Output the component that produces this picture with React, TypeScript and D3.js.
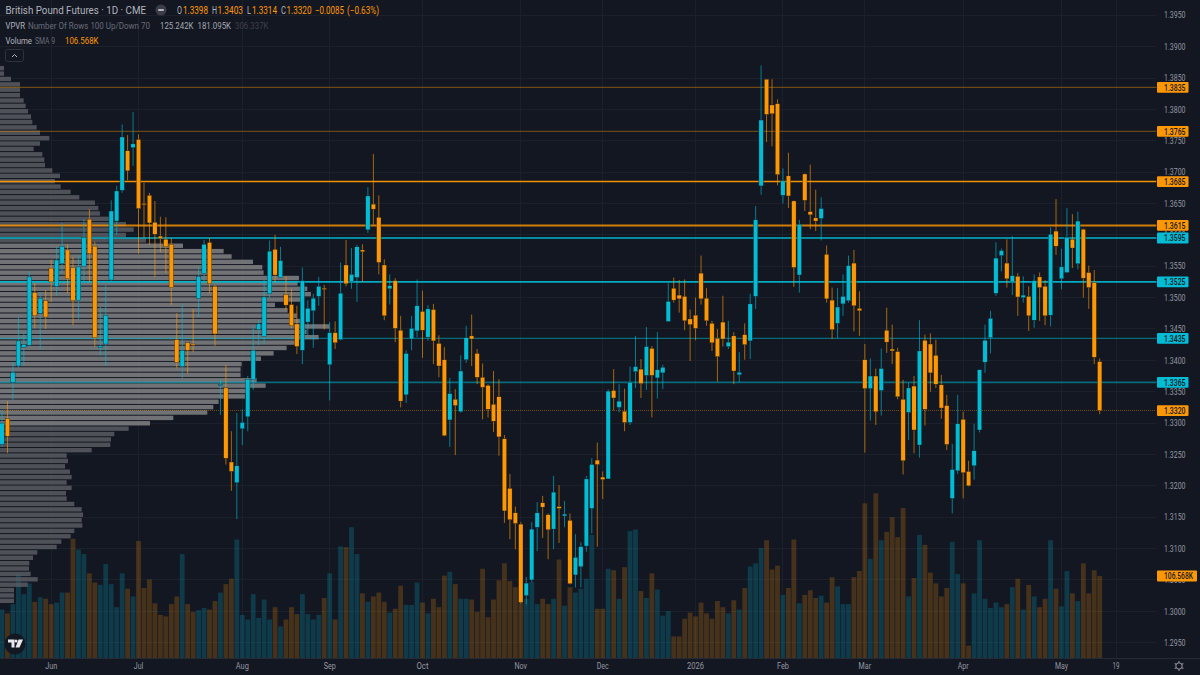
import React from "react";
import * as d3 from "d3";

// ---- candle data, in ten-thousandths of a USD (13398 = 1.3398) ----
const opens = [
13266,13307,13365,13391,13421,13424,13508,13475,13495,13547,
13518,13554,13576,13548,13495,13550,13625,13582,13420,13426,
13528,13622,13671,13734,13739,13752,13650,13663,13620,13598,
13593,13585,13433,13390,13428,13426,13499,13538,13588,13518,
13360,13356,13238,13205,13291,13310,13369,13449,13438,13506,
13577,13532,13505,13489,13458,13416,13461,13479,13502,13515,
13393,13444,13433,13552,13525,13532,13576,13608,13649,13628,
13552,13514,13527,13448,13345,13434,13447,13478,13437,13481,
13427,13401,13305,13338,13318,13401,13439,13411,13373,13360,
13330,13342,13275,13196,13157,13139,13025,13050,13134,13173,
13154,13131,13167,13152,13145,13058,13071,13104,13164,13241,
13214,13211,13352,13325,13319,13301,13382,13386,13376,13419,
13372,13380,13462,13515,13504,13502,13466,13472,13539,13499,
13459,13435,13461,13422,13439,13377,13441,13431,13502,13678,
13848,13807,13809,13663,13694,13654,13536,13697,13637,13627,
13626,13569,13496,13459,13490,13495,13555,13483,13401,13355,
13375,13352,13448,13418,13414,13338,13317,13359,13265,13432,
13426,13408,13361,13328,13180,13224,13306,13223,13232,13289,
13397,13436,13507,13567,13555,13525,13534,13500,13502,13464,
13533,13518,13472,13606,13530,13540,13593,13554,13609,13540,
13524,13398];
const highs = [
13321,13335,13397,13469,13444,13542,13523,13509,13512,13560,
13581,13619,13585,13565,13567,13625,13641,13589,13485,13520,
13655,13678,13776,13759,13796,13760,13683,13667,13654,13629,
13628,13595,13475,13491,13430,13482,13549,13592,13595,13520,
13370,13393,13287,13316,13322,13375,13454,13464,13528,13591,
13600,13581,13534,13514,13487,13548,13496,13506,13533,13520,
13461,13462,13556,13592,13579,13584,13585,13676,13729,13663,
13561,13537,13531,13471,13416,13471,13529,13511,13488,13490,
13440,13421,13372,13354,13408,13455,13473,13418,13395,13362,
13383,13370,13281,13219,13167,13142,13055,13142,13174,13184,
13156,13216,13201,13176,13156,13123,13110,13216,13244,13269,
13223,13354,13386,13362,13355,13390,13439,13402,13453,13423,
13445,13393,13523,13532,13528,13529,13481,13500,13567,13515,
13463,13450,13503,13463,13445,13413,13459,13506,13646,13870,
13848,13848,13816,13706,13731,13655,13624,13698,13712,13672,
13660,13583,13516,13515,13537,13567,13576,13510,13426,13403,
13387,13419,13484,13457,13420,13369,13364,13375,13464,13441,
13443,13433,13377,13345,13267,13345,13318,13240,13299,13385,
13457,13479,13588,13578,13593,13598,13539,13534,13518,13537,
13540,13528,13612,13657,13578,13643,13633,13637,13610,13551,
13544,13403];
const lows = [
13262,13252,13337,13388,13393,13422,13451,13418,13450,13493,
13503,13539,13507,13456,13466,13526,13525,13422,13408,13391,
13525,13600,13667,13687,13710,13570,13595,13584,13533,13572,
13539,13488,13387,13371,13379,13413,13469,13523,13507,13423,
13313,13234,13192,13147,13265,13287,13353,13424,13426,13499,
13524,13531,13480,13451,13410,13394,13440,13420,13487,13449,
13336,13418,13432,13518,13514,13493,13525,13603,13616,13537,
13464,13489,13429,13325,13332,13416,13437,13404,13431,13394,
13373,13279,13262,13249,13317,13396,13391,13362,13306,13309,
13286,13248,13141,13115,13099,13012,13011,13047,13096,13117,
13083,13099,13109,13134,13043,13038,13038,13095,13124,13103,
13179,13211,13320,13317,13287,13297,13356,13340,13353,13309,
13339,13354,13462,13492,13476,13448,13399,13432,13489,13455,
13415,13366,13422,13418,13362,13365,13401,13402,13482,13664,
13748,13741,13679,13650,13643,13517,13508,13638,13609,13606,
13591,13492,13434,13435,13471,13492,13446,13439,13253,13304,
13297,13312,13412,13394,13338,13218,13273,13252,13245,13296,
13350,13356,13307,13257,13156,13219,13180,13199,13210,13285,
13380,13411,13503,13542,13516,13504,13471,13492,13447,13452,
13463,13456,13454,13568,13513,13539,13547,13545,13500,13482,
13394,13314];
const closes = [
13300,13279,13381,13431,13425,13533,13471,13499,13469,13525,
13560,13582,13530,13495,13549,13596,13570,13436,13423,13472,
13638,13670,13756,13702,13745,13642,13648,13619,13601,13594,
13581,13516,13397,13416,13416,13424,13534,13585,13522,13442,
13362,13244,13223,13232,13301,13370,13416,13458,13501,13574,
13536,13559,13488,13455,13422,13527,13483,13499,13518,13513,
13444,13428,13507,13522,13537,13581,13573,13662,13641,13556,
13471,13519,13451,13335,13411,13451,13487,13448,13482,13431,
13391,13280,13347,13328,13383,13436,13434,13373,13357,13322,
13303,13278,13160,13146,13140,13014,13045,13131,13157,13166,
13130,13190,13164,13155,13044,13086,13103,13211,13234,13234,
13210,13351,13340,13335,13301,13365,13390,13363,13422,13376,
13385,13389,13494,13496,13498,13463,13457,13451,13498,13463,
13428,13406,13434,13429,13383,13381,13425,13490,13624,13783,
13792,13793,13696,13686,13662,13548,13617,13655,13632,13622,
13642,13498,13449,13485,13502,13551,13487,13479,13355,13375,
13318,13387,13429,13415,13342,13240,13356,13289,13415,13322,
13380,13362,13324,13266,13226,13299,13221,13200,13256,13385,
13432,13467,13563,13575,13530,13535,13501,13504,13471,13527,
13516,13471,13601,13582,13549,13596,13579,13622,13531,13516,
13405,13320];

// Volume per bar, thousands of contracts
const volumes = [
63,58,70,109,83,97,73,79,77,70,
72,85,85,155,141,135,110,98,95,122,
96,66,110,90,80,152,91,102,71,56,
54,70,80,135,70,60,62,65,63,74,
85,96,103,154,56,50,83,52,76,50,
66,41,50,66,57,83,57,50,56,78,
110,50,145,144,170,135,84,73,80,85,
73,59,64,94,69,69,98,72,58,77,
66,107,112,96,77,77,76,60,116,53,
76,101,123,100,92,71,77,99,70,77,
70,77,128,68,92,85,90,103,160,64,
64,116,114,77,118,165,167,87,78,110,
89,55,61,28,28,51,59,54,72,58,
51,74,66,58,75,63,91,119,123,143,
153,115,120,82,91,154,71,82,88,78,
81,72,105,93,70,70,105,113,201,129,
214,153,164,183,157,195,80,104,160,147,
111,97,80,91,151,109,97,16,84,153,
77,65,72,66,70,92,103,63,95,80,
66,77,153,90,67,113,84,74,123,84,
114,106.568];

// VPVR histogram: relative row volume, top row first
const vpvrRows = [
12,12,33,60,60,60,71,77,84,93,
97,110,120,148,120,101,127,133,135,157,
180,165,182,212,238,285,295,300,330,378,
401,378,438,549,671,695,759,787,791,897,
893,922,933,912,825,863,890,905,988,920,
956,890,860,821,783,725,722,722,770,797,
745,735,656,640,622,520,450,386,343,333,
331,275,200,204,195,210,215,200,215,198,
200,223,245,249,245,247,223,212,184,170,
112,99,88,87,92,113,83,42,42,42];
const vpvrValueFirst = 33;
const vpvrValueLast = 66;

const priceTicks = [1.395,1.39,1.385,1.38,1.375,1.37,1.365,1.36,1.355,1.35,1.345,1.34,1.335,1.33,1.325,1.32,1.315,1.31,1.305,1.3,1.295];
const timeLabels = ["Jun","Jul","Aug","Sep","Oct","Nov","Dec","2026","Feb","Mar","Apr","May","19"];
const timeBars = [9,25,44,60,77,95,110,127,143,158,176,194,204];

const levelPrices = [1.3835,1.3765,1.3685,1.3615,1.3595,1.3525,1.3435,1.3365];
const levelKinds = ["down","down","down","down","up","up","up","up"];
const levelWidths = [1.4,1.4,1.6,2,1.5,1.7,1.4,1.7];
const levelOpacities = [0.38,0.36,0.95,0.8,0.95,0.9,0.5,0.5];
const lastClose = 1.332;
const lastVolume = 106.568;

const BG = "#131722";
const UP = "#00bcd4";
const DOWN = "#ff9800";
const AXIS_TEXT = "#9598a1";
const FONT = "Roboto, 'Noto Sans', sans-serif";
const plotRight = 1156.5;
const axisY = 658;

const x = d3.scaleLinear().domain([0, 201]).range([2, 1099.7]);
const y = d3.scaleLinear().domain([1.295, 1.385]).range([642.7, 78]);
const yVol = d3.scaleLinear().domain([0, lastVolume]).range([axisY, 576]);
const xVp = d3.scaleLinear().domain([0, 988]).range([0, 329.3]);
const rowY = d3.scaleLinear().domain([0, 100]).range([66, 604]);
const crisp = (v: number) => Math.floor(v) + 0.5;

const Txt = ({ x, y, w, size, fill, children, anchor, weight }: any) => (
  <text x={x} y={y} fontSize={size} fill={fill} textAnchor={anchor} fontWeight={weight}
    textLength={w} lengthAdjust="spacingAndGlyphs">{children}</text>
);

const Tag = ({ yc, text, color, w = 31.5, tw = 21.5 }: { yc: number; text: string; color: string; w?: number; tw?: number }) => (
  <g>
    <rect x={1157} y={yc - 5.4} width={w} height={10.8} rx={1} fill={color} />
    <Txt x={1164} y={yc + 3.2} w={tw} size={9.2} fill="#131722" weight={500}>{text}</Txt>
  </g>
);

const timeLabelWidths = [12,9.5,13,12,12,12.5,12,17,12,12.5,11,13,7];

export default function App() {
  const bw = 4.4;
  return (
    <div style={{ position: "fixed", left: 0, top: 0, width: 1200, height: 675, background: BG, overflow: "hidden" }}>
      <svg width={1200} height={675} style={{ display: "block" }} fontFamily={FONT}>
        <rect width={1200} height={675} fill={BG} />
        {/* grid */}
        {priceTicks.map((p) => (
          <line key={p} x1={0} x2={plotRight} y1={crisp(y(p))} y2={crisp(y(p))} stroke="#1c202b" strokeWidth={1} />
        ))}
        {timeBars.map((b) => (
          <line key={b} x1={crisp(x(b))} x2={crisp(x(b))} y1={0} y2={axisY} stroke="#1c202b" strokeWidth={1} />
        ))}
        {/* volume */}
        {volumes.map((v, i) => (
          <rect key={i} x={x(i) - 2.4} width={4.8} y={yVol(v)} height={axisY - yVol(v)}
            fill={closes[i] >= opens[i] ? UP : DOWN} opacity={0.22} />
        ))}
        {/* VPVR */}
        {vpvrRows.map((r, k) => (
          <rect key={k} x={0} y={rowY(k)} width={xVp(r)} height={4.4}
            fill={k >= vpvrValueFirst && k <= vpvrValueLast ? "#8c8c8e" : "#5f6168"} opacity={0.78} />
        ))}
        {/* levels */}
        {levelPrices.map((p, i) => (
          <line key={p} x1={0} x2={plotRight} y1={y(p)} y2={y(p)}
            stroke={levelKinds[i] === "up" ? UP : DOWN} strokeWidth={levelWidths[i]} opacity={levelOpacities[i]} />
        ))}
        <line x1={0} x2={plotRight} y1={crisp(y(lastClose))} y2={crisp(y(lastClose))} stroke={DOWN} strokeWidth={1} strokeDasharray="1 1" opacity={0.4} />
        {/* candles */}
        {opens.map((o, i) => {
          const up = closes[i] >= o;
          const c = up ? UP : DOWN;
          const t = y(Math.max(o, closes[i]) / 1e4);
          const b = y(Math.min(o, closes[i]) / 1e4);
          return (
            <g key={i}>
              <line x1={x(i)} x2={x(i)} y1={y(highs[i] / 1e4)} y2={y(lows[i] / 1e4)} stroke={c} strokeWidth={1} opacity={0.62} />
              <rect x={x(i) - bw / 2} y={t} width={bw} height={Math.max(b - t, 1)} fill={c} stroke="#0d1018" strokeWidth={0.4} strokeOpacity={0.8} />
            </g>
          );
        })}
        {/* axes */}
        <rect x={0} y={axisY + 0.5} width={1200} height={17} fill={BG} />
        <line x1={0} x2={1200} y1={axisY + 0.5} y2={axisY + 0.5} stroke="#262a35" />
        <rect x={plotRight} y={0} width={44} height={658} fill={BG} />
        {priceTicks.map((p) => (
          <Txt key={p} x={1164} y={y(p) + 3.2} w={21.5} size={9.2} fill={AXIS_TEXT}>{d3.format(".4f")(p)}</Txt>
        ))}
        {timeLabels.map((t, i) => (
          <Txt key={t} x={x(timeBars[i]) - timeLabelWidths[i] / 2} y={669} w={timeLabelWidths[i]} size={9.2} fill={AXIS_TEXT}>{t}</Txt>
        ))}
        {levelPrices.map((p, i) => (
          <Tag key={p} yc={y(p)} text={d3.format(".4f")(p)} color={levelKinds[i] === "up" ? UP : DOWN} />
        ))}
        <Tag yc={y(lastClose)} text={d3.format(".4f")(lastClose)} color={DOWN} />
        <Tag yc={yVol(lastVolume)} text="106.568K" color={DOWN} w={40} tw={29} />
        {/* settings gear */}
        <g transform="translate(1179,666)" fill="none" stroke={AXIS_TEXT} strokeWidth={1}>
          <circle r={3.2} />
          {d3.range(6).map((k) => (
            <line key={k} x1={0} x2={0} y1={3.2} y2={5} transform={`rotate(${k * 60})`} />
          ))}
        </g>
        {/* legend */}
        <Txt x={5.5} y={14} w={140.5} size={11.5} fill="#b2b5be">British Pound Futures · 1D · CME</Txt>
        <circle cx={161} cy={10} r={5.5} fill="#3a3d47" />
        <rect x={158} y={9} width={6} height={2} rx={1} fill="#b2b5be" />
        <Txt x={177} y={14} w={5} size={10} fill="#b2b5be">O</Txt>
        <Txt x={183} y={14} w={25} size={10} fill={DOWN}>1.3398</Txt>
        <Txt x={212} y={14} w={5} size={10} fill="#b2b5be">H</Txt>
        <Txt x={217.5} y={14} w={25.5} size={10} fill={DOWN}>1.3403</Txt>
        <Txt x={247} y={14} w={4} size={10} fill="#b2b5be">L</Txt>
        <Txt x={252} y={14} w={25} size={10} fill={DOWN}>1.3314</Txt>
        <Txt x={281} y={14} w={5} size={10} fill="#b2b5be">C</Txt>
        <Txt x={286.5} y={14} w={25} size={10} fill={DOWN}>1.3320</Txt>
        <Txt x={315} y={14} w={29} size={10} fill={DOWN}>−0.0085</Txt>
        <Txt x={347} y={14} w={32} size={10} fill={DOWN}>(−0.63%)</Txt>
        <Txt x={5.5} y={28.5} w={19.5} size={9.5} fill="#b2b5be">VPVR</Txt>
        <Txt x={28} y={28.5} w={122} size={9.5} fill="#6a6d78">Number Of Rows 100 Up/Down 70</Txt>
        <Txt x={160} y={28.5} w={33.5} size={9.5} fill="#a4a7b0">125.242K</Txt>
        <Txt x={197.5} y={28.5} w={33.5} size={9.5} fill="#a4a7b0">181.095K</Txt>
        <Txt x={235} y={28.5} w={33.5} size={9.5} fill="#3d404a">306.337K</Txt>
        <Txt x={5.5} y={43.5} w={26.5} size={9.5} fill="#b2b5be">Volume</Txt>
        <Txt x={35} y={43.5} w={20} size={9.5} fill="#6a6d78">SMA 9</Txt>
        <Txt x={65} y={43.5} w={33.5} size={9.5} fill={DOWN}>106.568K</Txt>
        <rect x={5.5} y={49.5} width={18} height={12} rx={2} fill={BG} stroke="#2e323d" />
        <path d="M12 57 L14.5 54.5 L17 57" fill="none" stroke="#b2b5be" strokeWidth={1} />
        {/* logo */}
        <circle cx={15} cy={644} r={10.5} fill="#131722" />
        <path d="M8 639.5 H14.5 V647.5 H11.5 V642.5 H8 Z M18.5 639.5 H23 L19.5 647.5 H15.5 Z" fill="#e8e9ec" />
        <circle cx={16} cy={641} r={1.5} fill="#e8e9ec" />
      </svg>
    </div>
  );
}
